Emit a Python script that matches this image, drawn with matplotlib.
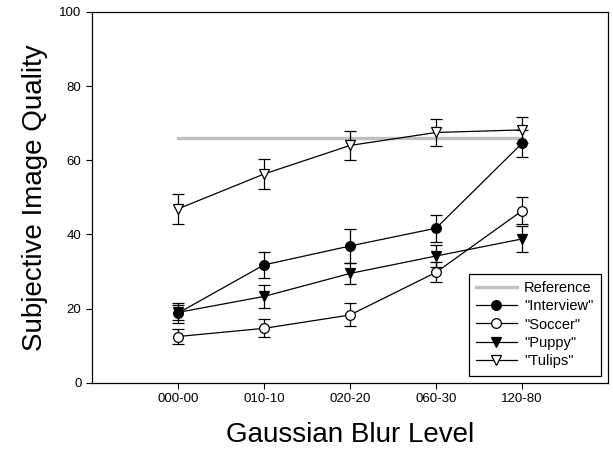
import matplotlib.pyplot as plt

plt.rcParams['font.family'] = ['Liberation Sans', 'DejaVu Sans']

# 模糊等级（横轴类别）
levels = ["000-00", "010-10", "020-20", "060-30", "120-80"]
xpos = [1, 2, 3, 4, 5]

# 参考线
reference = 66

# 各序列的均值和误差
interview = [18.8, 31.8, 36.9, 41.7, 64.6]
interview_err = [2.7, 3.5, 4.6, 3.6, 3.6]
soccer = [12.5, 14.7, 18.3, 29.8, 46.4]
soccer_err = [1.9, 2.4, 3.1, 2.7, 3.6]
puppy = [19.0, 23.3, 29.5, 34.2, 38.8]
puppy_err = [2.0, 3.2, 2.9, 3.0, 3.4]
tulips = [46.9, 56.3, 64.0, 67.5, 68.2]
tulips_err = [4.0, 4.0, 4.0, 3.7, 3.6]

fig = plt.figure(figsize=(6.13, 4.58), dpi=100)
ax = fig.add_axes([0.150, 0.164, 0.842, 0.810])

# 参考线
ax.plot([xpos[0], xpos[-1]], [reference, reference], color="#c0c0c0", linewidth=2.4, label="Reference", zorder=1)

series = [
    (interview, interview_err, "o", "black", '"Interview"'),
    (soccer, soccer_err, "o", "white", '"Soccer"'),
    (puppy, puppy_err, "v", "black", '"Puppy"'),
    (tulips, tulips_err, "v", "white", '"Tulips"'),
]
for vals, errs, mk, fc, name in series:
    ax.errorbar(xpos, vals, yerr=errs, color="black", linewidth=0.9, elinewidth=0.9,
                capsize=4.5, capthick=0.9, marker=mk, markersize=7, markerfacecolor=fc,
                markeredgecolor="black", markeredgewidth=0.9, label=name, zorder=3)

ax.set_xlim(0, 6)
ax.set_ylim(0, 100)
ax.set_xticks(xpos)
ax.set_xticklabels(levels)
ax.set_yticks([0, 20, 40, 60, 80, 100])
ax.tick_params(axis="both", direction="out", length=4, width=0.8, labelsize=9.5, top=False, right=False)
for s in ax.spines.values():
    s.set_linewidth(0.9)

ax.set_xlabel("Gaussian Blur Level", fontsize=20, labelpad=12)
ax.set_ylabel("Subjective Image Quality", fontsize=20, labelpad=8)

# 图例：只取误差棒容器中的数据线
handles, labels = ax.get_legend_handles_labels()
handles = [h.lines[0] if hasattr(h, "lines") else h for h in handles]
leg = ax.legend(handles, labels, loc="lower right", fontsize=10.5, frameon=True, fancybox=False,
                framealpha=1, edgecolor="black", handlelength=2.8, borderaxespad=0.5,
                labelspacing=0.3, handletextpad=0.5, borderpad=0.5)
leg.get_frame().set_linewidth(0.9)

fig.savefig("out.png", dpi=100)
